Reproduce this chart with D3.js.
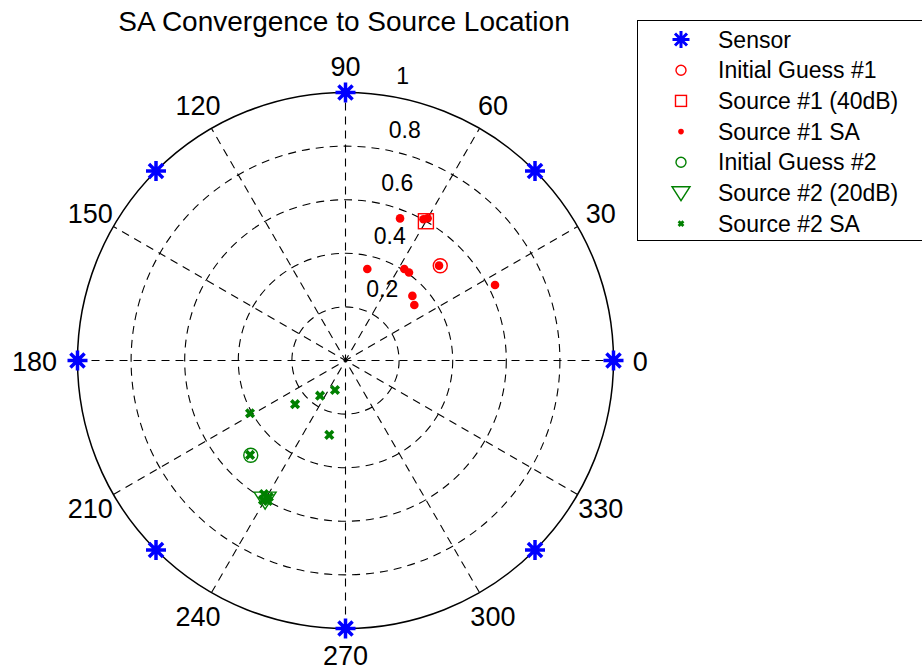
<!DOCTYPE html>
<html lang="en">
<head>
<meta charset="UTF-8">
<title>SA Convergence to Source Location</title>
<script src="https://cdn.jsdelivr.net/npm/d3@7"></script>
<style>
  body { margin: 0; background: #fff; }
  text { font-family: "Liberation Sans", Arial, Helvetica, sans-serif; fill: #000; }
</style>
</head>
<body>
<svg id="main" width="922" height="671"></svg>
<script>
    // ---- data (theta in degrees, r normalised) ----
    const sensorTheta = [0, 45, 90, 135, 180, 225, 270, 315];
    const sensorR = [1, 1, 1, 1, 1, 1, 1, 1];

    const guess1Theta = [45];
    const guess1R = [0.5];
    const source1Theta = [60];
    const source1R = [0.6];
    const sa1Theta = [61.1, 60.0, 69.0, 76.6, 57.3, 54.2, 44.0, 38.9, 26.8, 45.4];
    const sa1R = [0.602, 0.613, 0.568, 0.351, 0.406, 0.405, 0.347, 0.330, 0.625, 0.497];

    const guess2Theta = [225];
    const guess2R = [0.5];
    const source2Theta = [240];
    const source2R = [0.6];
    const sa2Theta = [208.9, 220.9, 234.1, 250.4, 257.7, 224.7, 238.6, 240.7, 239.4, 241.1];
    const sa2R = [0.407, 0.249, 0.162, 0.117, 0.284, 0.501, 0.584, 0.584, 0.605, 0.599];

    const ringTicks = [0.2, 0.4, 0.6, 0.8, 1];
    const spokeAngles = [0, 30, 60, 90, 120, 150, 180, 210, 240, 270, 300, 330];
    const legendLabels = ['Sensor', 'Initial Guess #1', 'Source #1 (40dB)', 'Source #1 SA',
        'Initial Guess #2', 'Source #2 (20dB)', 'Source #2 SA'];

    // ---- layout ----
    const svg = d3.select('svg#main');
    const cx = 345.5, cy = 360.5, R = 268;
    const red = '#ff0000', green = '#008000', blue = '#0000ff';

    const rScale = d3.scaleLinear().domain([0, 1]).range([0, R]);
    const px = (t, r) => cx + rScale(r) * Math.cos(t * Math.PI / 180);
    const py = (t, r) => cy - rScale(r) * Math.sin(t * Math.PI / 180);
    const zip = (ts, rs) => ts.map((t, i) => ({t: t, r: rs[i]}));

    // title
    svg.append('text')
        .attr('x', 344).attr('y', 31)
        .attr('text-anchor', 'middle')
        .style('font-size', '28px')
        .text('SA Convergence to Source Location');

    // grid: spokes drawn as full diameters, like matlab polar
    const grid = svg.append('g');
    grid.selectAll('line.spoke')
        .data(spokeAngles.filter(d => d < 180))
        .enter().append('line')
        .attr('class', 'spoke')
        .attr('x1', d => px(d + 180, 1)).attr('y1', d => py(d + 180, 1))
        .attr('x2', d => px(d, 1)).attr('y2', d => py(d, 1))
        .attr('stroke', '#000').attr('stroke-width', 1.1)
        .attr('stroke-dasharray', '8,6');

    grid.selectAll('circle.ring')
        .data(ringTicks.filter(d => d < 1))
        .enter().append('circle')
        .attr('class', 'ring')
        .attr('cx', cx).attr('cy', cy)
        .attr('r', d => rScale(d))
        .attr('fill', 'none')
        .attr('stroke', '#000').attr('stroke-width', 1.1)
        .attr('stroke-dasharray', '8,6');

    grid.append('circle')
        .attr('cx', cx).attr('cy', cy)
        .attr('r', rScale(1))
        .attr('fill', 'none')
        .attr('stroke', '#000').attr('stroke-width', 1.5);

    // ring labels, placed along 82 degrees like matlab polar
    grid.selectAll('text.rlab')
        .data(ringTicks)
        .enter().append('text')
        .attr('class', 'rlab')
        .attr('x', d => px(82, d + 0.01) + 13)
        .attr('y', d => py(82, d + 0.01) - 8)
        .style('font-size', '23px')
        .text(d => d3.format('~g')(d));

    // angle labels
    grid.selectAll('text.alab')
        .data(spokeAngles)
        .enter().append('text')
        .attr('class', 'alab')
        .attr('x', d => px(d, d === 180 ? 1.16 : 1.1))
        .attr('y', d => py(d, 1.1) + 10)
        .attr('text-anchor', 'middle')
        .style('font-size', '27px')
        .text(d => d);

    // ---- marker shapes ----
    function star(g, s, w) {
        const a = s * 0.707;
        const p = `M${-s},0L${s},0M0,${-s}L0,${s}M${-a},${-a}L${a},${a}M${-a},${a}L${a},${-a}`;
        g.append('path').attr('d', p).attr('stroke', blue).attr('stroke-width', w).attr('fill', 'none');
    }
    function ring(g, s, col) {
        g.append('circle').attr('r', s).attr('fill', 'none').attr('stroke', col).attr('stroke-width', 1.4);
    }
    function square(g, s, col) {
        g.append('rect').attr('x', -s).attr('y', -s).attr('width', 2 * s).attr('height', 2 * s)
            .attr('fill', 'none').attr('stroke', col).attr('stroke-width', 1.4);
    }
    function dot(g, s, col) {
        g.append('circle').attr('r', s).attr('fill', col);
    }
    function tri(g, w, h, col) {
        g.append('path').attr('d', `M${-w},${-h * 0.45}L${w},${-h * 0.45}L0,${h * 0.55}Z`)
            .attr('fill', 'none').attr('stroke', col).attr('stroke-width', 1.4);
    }
    function cross(g, s, w, col) {
        g.append('path').attr('d', `M${-s},${-s}L${s},${s}M${-s},${s}L${s},${-s}`)
            .attr('stroke', col).attr('stroke-width', w).attr('fill', 'none');
    }

    function plot(ts, rs, draw) {
        svg.append('g').selectAll('g')
            .data(zip(ts, rs))
            .enter().append('g')
            .attr('transform', d => `translate(${px(d.t, d.r)},${py(d.t, d.r)})`)
            .each(function() { draw(d3.select(this)); });
    }

    plot(sensorTheta, sensorR, g => star(g, 10, 3.5));
    plot(guess1Theta, guess1R, g => ring(g, 7, red));
    plot(source1Theta, source1R, g => square(g, 7.5, red));
    plot(sa1Theta, sa1R, g => dot(g, 4.3, red));
    plot(guess2Theta, guess2R, g => ring(g, 7, green));
    plot(source2Theta, source2R, g => tri(g, 11, 17, green));
    plot(sa2Theta, sa2R, g => cross(g, 3.8, 3.6, green));

    // ---- legend ----
    const legend = svg.append('g');
    legend.append('rect')
        .attr('x', 637.5).attr('y', 20.5)
        .attr('width', 300).attr('height', 220)
        .attr('fill', '#fff').attr('stroke', '#000').attr('stroke-width', 1);

    const legendDraw = [
        g => star(g, 8.5, 3),
        g => ring(g, 5, red),
        g => square(g, 5.5, red),
        g => dot(g, 2.8, red),
        g => ring(g, 5, green),
        g => tri(g, 9, 14, green),
        g => cross(g, 2.4, 2.8, green)
    ];

    const rows = legend.selectAll('g.row')
        .data(legendLabels)
        .enter().append('g')
        .attr('class', 'row')
        .attr('transform', (d, i) => `translate(0,${39.5 + i * 30.7})`);

    rows.append('g')
        .attr('transform', 'translate(681,0)')
        .each(function(d, i) { legendDraw[i](d3.select(this)); });

    rows.append('text')
        .attr('x', 718).attr('y', 8)
        .style('font-size', '23px')
        .text(d => d);
</script>
</body>
</html>
